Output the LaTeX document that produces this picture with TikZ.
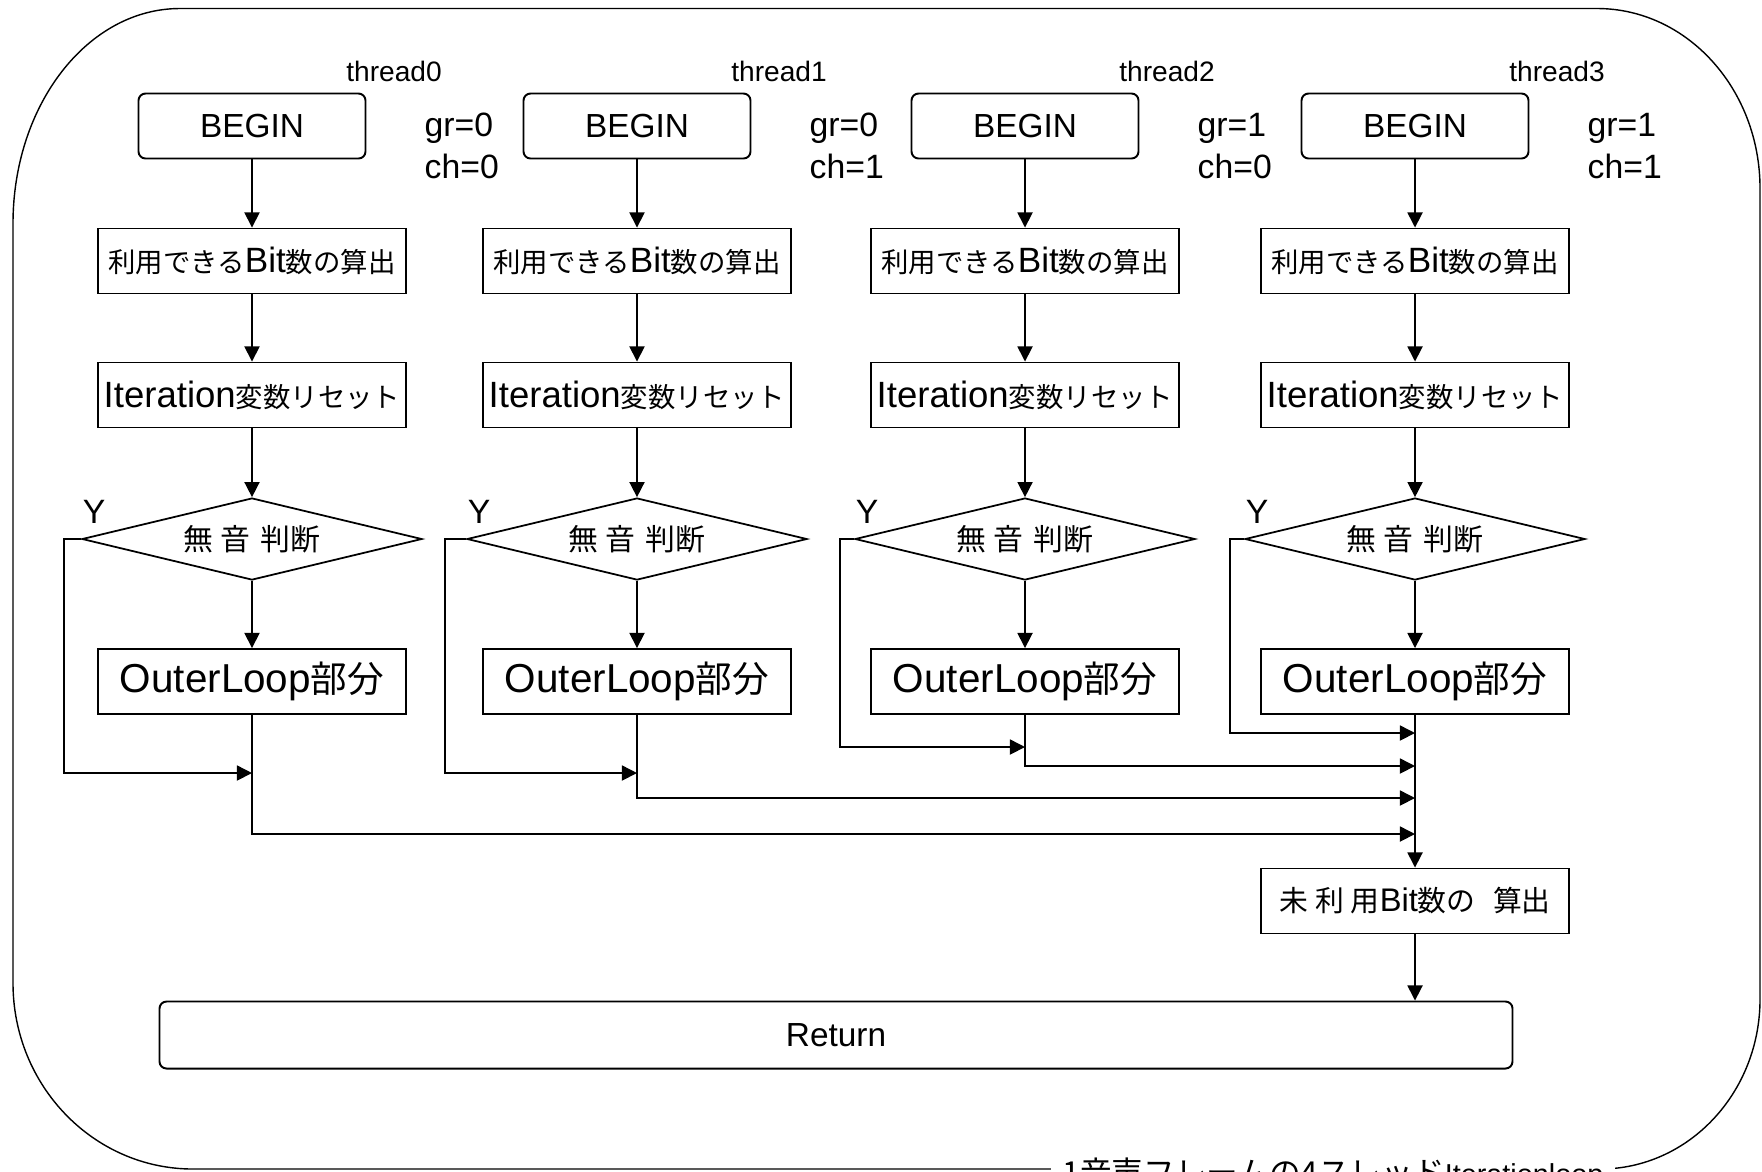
\documentclass[tikz,border=0pt]{standalone}
\usepackage{fontspec}
\setmainfont{Liberation Sans}
\newfontfamily\jpfont{Noto Sans CJK JP}
\usepackage{tikz}
\usetikzlibrary{positioning, arrows.meta, shapes.geometric}
\newcommand{\jp}[2]{{\jpfont\fontsize{#1}{#1}\selectfont #2}}

\tikzset{
  flowline/.style={line width=0.45pt, -{Triangle[length=4.3pt, width=4.3pt]}},
  startbox/.style={draw, line width=0.55pt, rounded corners=2pt,
    minimum width=2.27cm, minimum height=0.65cm, font=\fontsize{9.5}{11}\selectfont},
  procbox/.style={draw, line width=0.55pt, inner sep=0pt,
    minimum width=3.08cm, minimum height=0.65cm, font=\fontsize{10}{12}\selectfont},
  decision/.style={draw, line width=0.5pt, diamond, aspect=4.1, inner sep=0pt,
    minimum width=3.4cm, minimum height=0.82cm},
  tag/.style={font=\fontsize{9.6}{12.1}\selectfont, inner sep=0pt},
  frame/.style={line width=0.4pt}
}

\begin{document}
\begin{tikzpicture}
  \useasboundingbox (0,0) rectangle (17.62,-11.71);

  % outer frame
  \draw[frame] (0.13,-2.235) -- (0.13,-9.83)
    arc[start angle=180, end angle=270, x radius=1.8, y radius=1.86] -- (16.00,-11.69)
    arc[start angle=270, end angle=360, x radius=1.6, y radius=1.7] -- (17.60,-1.885)
    arc[start angle=0, end angle=90, x radius=1.63, y radius=1.8] -- (1.80,-0.085)
    arc[start angle=90, end angle=180, x radius=1.67, y radius=2.15] -- cycle;
  \node[fill=white, inner xsep=0.12cm, anchor=base] (caption) at (13.33,-11.84)
    {\jp{9}{1音声フレームの4スレッド}\fontsize{8.2}{10}\selectfont Iterationloop};

  % one column per thread
  \foreach \x/\i/\g/\c/\dx/\jy in {2.52/0/0/0/0.17/7.73, 6.37/1/0/1/0.21/7.73,
                                  10.25/2/1/0/0.14/7.47, 14.15/3/1/1/0.14/7.33} {
    \node[font=\fontsize{8}{10}\selectfont, inner sep=0pt] (thread\i) at (\x+1.42,-0.71) {thread\i};
    \node[startbox] (begin\i) at (\x,-1.26) {BEGIN};
    \node[tag, align=left, anchor=west] (param\i) at (\x+1.72,-1.46) {gr=\g\\ch=\c};
    \node[procbox] (avail\i) at (\x,-2.61) {\jp{7.8}{利用できる}Bit\jp{7.8}{数の算出}};
    \node[procbox, font=\fontsize{10.4}{12}\selectfont] (reset\i) at (\x,-3.95)
      {Iteration\jp{7.8}{変数リセット}};
    \node[decision] (silent\i) at (\x,-5.39) {\jp{8.5}{無\kern2pt 音\kern3pt 判断}};
    \node[tag] (yes\i) at ([shift={(0.13,0.27)}]silent\i.west) {Y};
    \node[procbox, font=\fontsize{11.5}{13}\selectfont] (outer\i) at (\x,-6.815)
      {OuterLoop\jp{10.4}{部分}};
    \coordinate (join\i) at (\x,-\jy);

    \draw[flowline] (begin\i) -- (avail\i);
    \draw[flowline] (avail\i) -- (reset\i);
    \draw[flowline] (reset\i) -- (silent\i);
    \draw[flowline] (silent\i) -- (outer\i);
    \draw[flowline] (silent\i.west) -- ++(-\dx,0) |- (join\i);
  }

  \node[procbox, font=\fontsize{9.3}{11}\selectfont] (unused) at (14.15,-9.01)
    {\jp{8.2}{未\kern2pt 利\kern2pt 用}Bit\jp{8.2}{数の\kern5pt 算出}};
  \node[startbox, minimum width=13.53cm, minimum height=0.67cm] (ret) at (8.36,-10.35) {Return};

  \coordinate (in2) at (14.15,-7.66);
  \coordinate (in1) at (14.15,-7.98);
  \coordinate (in0) at (14.15,-8.34);
  \draw[flowline] (outer2.south) |- (in2);
  \draw[flowline] (outer1.south) |- (in1);
  \draw[flowline] (outer0.south) |- (in0);
  \draw[flowline] (outer3) -- (unused);
  \draw[flowline] (unused) -- (unused |- ret.north);
\end{tikzpicture}
\end{document}
